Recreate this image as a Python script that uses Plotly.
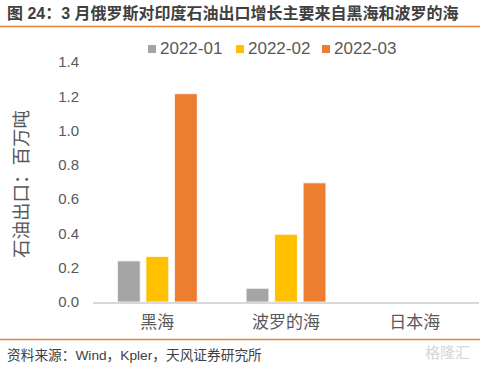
import plotly.graph_objects as go

# ---- data ----
categories = ["黑海", "波罗的海", "日本海"]
series_names = ["2022-01", "2022-02", "2022-03"]
jan_values = [0.24, 0.08, 0.0]
feb_values = [0.265, 0.395, 0.0]
mar_values = [1.215, 0.695, 0.0]
y_ticks = [0.0, 0.2, 0.4, 0.6, 0.8, 1.0, 1.2, 1.4]
y_tick_labels = ["0.0", "0.2", "0.4", "0.6", "0.8", "1.0", "1.2", "1.4"]
title_text = "图 24：3 月俄罗斯对印度石油出口增长主要来自黑海和波罗的海"
y_title = "石油出口：百万吨"
source_text = "资料来源：Wind，Kpler，天风证券研究所"

colors = ["#A5A5A5", "#FFC000", "#ED7D31"]
FONT = "Arial, 'Liberation Sans', 'Noto Sans CJK SC', sans-serif"
W, H = 480, 367
L, R, T, B = 93, 1, 62, 65
PW, PH = W - L - R, H - T - B


def px(x):
    return (x - L) / PW


def py(y):
    return (H - B - y) / PH


fig = go.Figure()
for name, vals, c in zip(series_names, [jan_values, feb_values, mar_values], colors):
    fig.add_trace(go.Bar(x=categories, y=vals, name=name, marker_color=c,
                         marker_line=dict(color="white", width=0.8),
                         showlegend=False))

fig.update_layout(
    width=W, height=H,
    margin=dict(l=L, r=R, t=T, b=B),
    paper_bgcolor="white", plot_bgcolor="white",
    barmode="group", bargap=0.335, bargroupgap=0.2,
    font=dict(family=FONT, color="#595959"),
)
fig.update_yaxes(range=[0, 1.4], tickvals=y_ticks, ticktext=y_tick_labels,
                 showgrid=False, zeroline=False, showline=False,
                 tickfont=dict(size=15, color="#595959"), ticklabelstandoff=13)
fig.update_xaxes(showline=True, linecolor="#D9D9D9", linewidth=1.5,
                 tickfont=dict(size=17, color="#595959"), ticklabelstandoff=4)

shapes = []
annotations = []
# custom legend
leg_x = [148, 236, 322]
for name, c, lx in zip(series_names, colors, leg_x):
    shapes.append(dict(type="rect", xref="paper", yref="paper",
                       x0=px(lx), x1=px(lx + 8), y0=py(53), y1=py(45),
                       fillcolor=c, line=dict(width=0)))
    annotations.append(dict(text=name, xref="paper", yref="paper",
                            x=px(lx + 10), y=py(49), xanchor="left", yanchor="middle",
                            showarrow=False, font=dict(size=17, color="#595959")))

# title and rules
annotations.append(dict(text="<b>" + title_text + "</b>", xref="paper", yref="paper",
                        x=px(5), y=py(13), xanchor="left", yanchor="middle",
                        showarrow=False, font=dict(size=16, color="#404040")))
shapes.append(dict(type="line", xref="paper", yref="paper", x0=px(0), x1=px(480),
                   y0=py(26.5), y1=py(26.5), line=dict(color="#E8843A", width=1.5)))
shapes.append(dict(type="line", xref="paper", yref="paper", x0=px(0), x1=px(480),
                   y0=py(339.5), y1=py(339.5), line=dict(color="#E8843A", width=1.5)))
annotations.append(dict(text=source_text, xref="paper", yref="paper",
                        x=px(5), y=py(355), xanchor="left", yanchor="middle",
                        showarrow=False, font=dict(size=13.7, color="#404040")))
annotations.append(dict(text=y_title, xref="paper", yref="paper",
                        x=px(21), y=py(184), xanchor="center", yanchor="middle",
                        textangle=-90, showarrow=False,
                        font=dict(size=18.5, color="#595959")))
# watermark
annotations.append(dict(text="格隆汇", xref="paper", yref="paper",
                        x=px(447), y=py(352), xanchor="center", yanchor="middle",
                        showarrow=False, font=dict(size=15, color="#D6D6D6")))

fig.update_layout(shapes=shapes, annotations=annotations)
fig.write_html("out.html", config={"displayModeBar": False},
               post_script="document.body.style.margin='0px';document.body.style.overflow='hidden';")
